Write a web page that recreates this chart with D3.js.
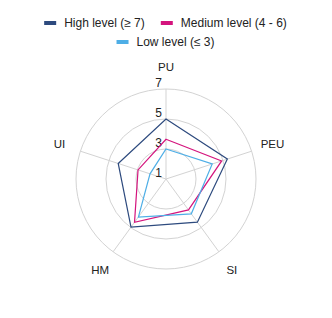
<!DOCTYPE html>
<html><head><meta charset="utf-8">
<script src="https://cdn.jsdelivr.net/npm/d3@7"></script>
<style>body{margin:0;background:#fff}svg{display:block;font-family:"Liberation Sans",Arial,sans-serif}</style>
</head><body><svg id="c" width="332" height="318"></svg>
<script>
const axes = ["PU","PEU","SI","HM","UI"];
const seriesNames = ["High level (≥ 7)","Medium level (4 - 6)","Low level (≤ 3)"];
const seriesColors = ["#2d4a7e","#d4147d","#4eaee6"];
const highValues = [5.0, 5.3, 4.56, 4.97, 4.35];
const mediumValues = [3.65, 4.9, 3.55, 4.57, 2.96];
const lowValues = [3.0, 4.24, 3.87, 4.13, 2.12];
const tickValues = [1, 3, 5, 7];

const svg = d3.select("#c");
const cx = 166, cy = 179, R = 90;
const r = d3.scaleLinear().domain([1, 7]).range([0, R]);
const ang = d3.scalePoint().domain(axes).range([0, 2*Math.PI*(axes.length-1)/axes.length]);
const g = svg.append("g").attr("transform", `translate(${cx},${cy})`);

// grid circles
g.selectAll("circle.grid").data(tickValues.filter(t => t > 1)).join("circle")
  .attr("r", d => r(d)).attr("fill", "none").attr("stroke", "#d3d3d3").attr("stroke-width", 1);
// axis lines
g.selectAll("line.ax").data(axes).join("line")
  .attr("x1", 0).attr("y1", 0)
  .attr("x2", d => R*Math.sin(ang(d))).attr("y2", d => -R*Math.cos(ang(d)))
  .attr("stroke", "#d3d3d3").attr("stroke-width", 1);
// axis labels
g.selectAll("text.axl").data(axes).join("text")
  .attr("x", d => 112*Math.sin(ang(d))).attr("y", d => -112*Math.cos(ang(d)))
  .attr("text-anchor", "middle").attr("dominant-baseline", "central")
  .attr("font-size", 11.5).attr("fill", "#222").text(d => d);
// tick labels
g.selectAll("text.tk").data(tickValues).join("text")
  .attr("x", -4).attr("y", d => -r(d) - 2)
  .attr("text-anchor", "end").attr("font-size", 12).attr("fill", "#222").text(d => d);

// series
const allValues = [highValues, mediumValues, lowValues];
const line = d3.lineRadial().angle((d,i) => ang(axes[i])).radius(d => r(d)).curve(d3.curveLinearClosed);
g.selectAll("path.s").data(allValues).join("path")
  .attr("d", d => line(d)).attr("fill", "none")
  .attr("stroke", (d,i) => seriesColors[i]).attr("stroke-width", 1.2);

// legend
const rows = [[0,1],[2]];
const rowY = [23, 42];
rows.forEach((row, ri) => {
  const lg = svg.append("g");
  let x = 0;
  row.forEach((si, k) => {
    if (k > 0) x += 16;
    lg.append("rect").attr("x", x).attr("y", rowY[ri]-2).attr("width", 12).attr("height", 4).attr("fill", seriesColors[si]);
    x += 20;
    const t = lg.append("text").attr("x", x).attr("y", rowY[ri]+4).attr("font-size", 12).attr("fill", "#222").text(seriesNames[si]);
    x += t.node().getComputedTextLength();
  });
  lg.attr("transform", `translate(${165.5 - x/2},0)`);
});
</script></body></html>
